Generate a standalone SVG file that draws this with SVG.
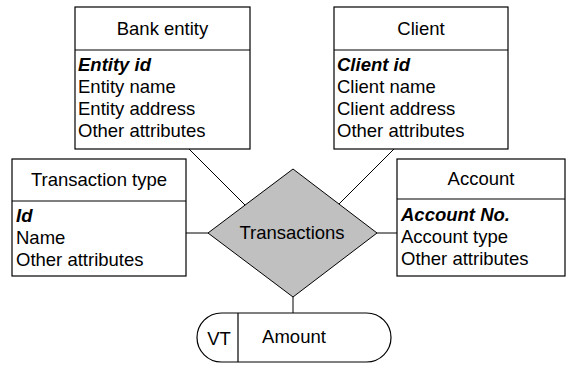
<svg xmlns="http://www.w3.org/2000/svg" width="567" height="367" viewBox="0 0 567 367">
  <style>
    .box { fill: #ffffff; stroke: #000000; stroke-width: 1.2; }
    .sep { stroke: #000000; stroke-width: 1.2; }
    .link { stroke: #000000; stroke-width: 1; fill: none; }
    .rel { fill: #c0c0c0; stroke: #000000; stroke-width: 1; }
    text { font-family: "Liberation Sans", Arial, sans-serif; font-size: 18.5px; fill: #000000; }
    .title { text-anchor: middle; }
    .key { font-weight: bold; font-style: italic; }
  </style>
  <rect width="567" height="367" fill="#ffffff"/>

  <!-- connectors -->
  <g id="connectors">
    <line class="link" x1="189" y1="149" x2="245" y2="205"/>
    <line class="link" x1="394" y1="149" x2="339" y2="204"/>
    <line class="link" x1="186" y1="233" x2="208" y2="233"/>
    <line class="link" x1="377" y1="233" x2="397" y2="233"/>
    <line class="link" x1="293" y1="297" x2="293" y2="313"/>
  </g>

  <!-- Bank entity -->
  <g id="bank-entity">
    <rect class="box" x="75" y="7" width="175" height="142"/>
    <line class="sep" x1="75" y1="50" x2="250" y2="50"/>
    <text class="title" x="162.5" y="35">Bank entity</text>
    <text class="key" x="78" y="71">Entity id</text>
    <text x="78" y="93">Entity name</text>
    <text x="78" y="115">Entity address</text>
    <text x="78" y="137">Other attributes</text>
  </g>

  <!-- Client -->
  <g id="client">
    <rect class="box" x="334" y="7" width="174" height="142"/>
    <line class="sep" x1="334" y1="50" x2="508" y2="50"/>
    <text class="title" x="421" y="35">Client</text>
    <text class="key" x="337" y="71">Client id</text>
    <text x="337" y="93">Client name</text>
    <text x="337" y="115">Client address</text>
    <text x="337" y="137">Other attributes</text>
  </g>

  <!-- Transaction type -->
  <g id="transaction-type">
    <rect class="box" x="12" y="159" width="174" height="117"/>
    <line class="sep" x1="12" y1="201" x2="186" y2="201"/>
    <text class="title" x="99" y="186">Transaction type</text>
    <text class="key" x="16" y="222">Id</text>
    <text x="16" y="244">Name</text>
    <text x="16" y="266">Other attributes</text>
  </g>

  <!-- Account -->
  <g id="account">
    <rect class="box" x="397" y="159" width="168" height="117"/>
    <line class="sep" x1="397" y1="199" x2="565" y2="199"/>
    <text class="title" x="481" y="185">Account</text>
    <text class="key" x="401" y="221">Account No.</text>
    <text x="401" y="243">Account type</text>
    <text x="401" y="265">Other attributes</text>
  </g>

  <!-- Transactions relationship -->
  <g id="transactions">
    <polygon class="rel" points="293,169 377,233 293,297 208,233"/>
    <text class="title" x="292" y="239">Transactions</text>
  </g>

  <!-- Amount attribute -->
  <g id="amount">
    <rect class="box" x="197" y="313" width="194" height="49" rx="24.5" ry="24.5"/>
    <line class="sep" x1="238" y1="313" x2="238" y2="362"/>
    <text class="title" x="219" y="345">VT</text>
    <text class="title" x="294" y="343">Amount</text>
  </g>
</svg>
